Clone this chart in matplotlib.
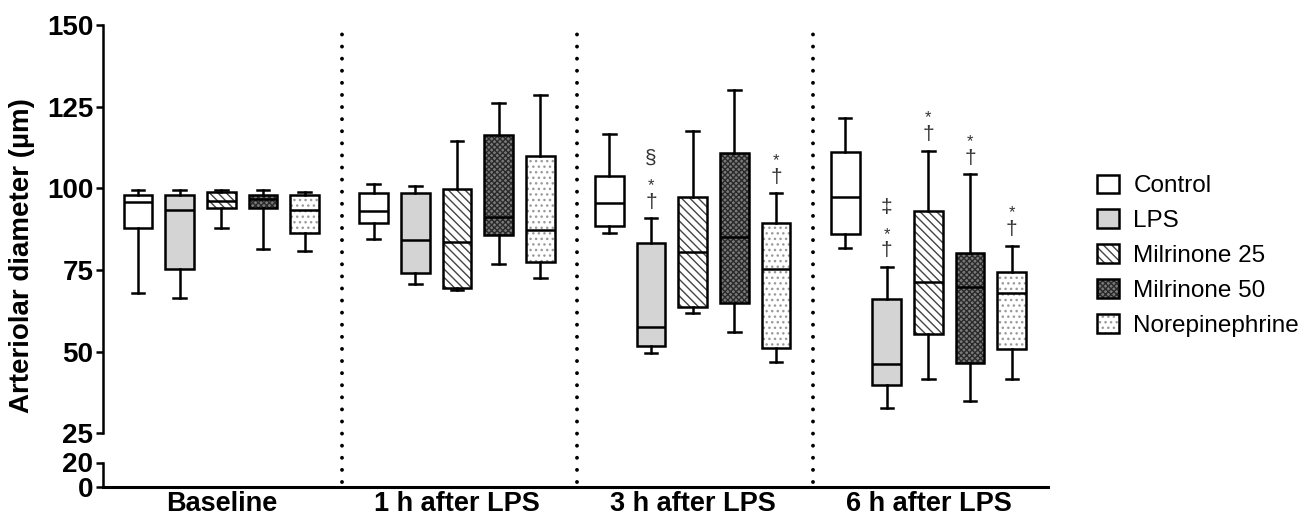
import matplotlib

matplotlib.use("Agg")
import matplotlib.pyplot as plt
from matplotlib.patches import Patch
from matplotlib.legend_handler import HandlerTuple

# Time points (x categories) and treatment groups (series)
TIMEPOINTS = ["Baseline", "1 h after LPS", "3 h after LPS", "6 h after LPS"]
SERIES = ["Control", "LPS", "Milrinone 25", "Milrinone 50", "Norepinephrine"]

# Box statistics per time point: (whisker low, Q1, median, Q3, whisker high), µm
CONTROL = [(68.1, 87.8, 95.9, 98.0, 99.4), (84.5, 89.3, 93.1, 98.5, 101.5),
           (86.4, 88.6, 95.5, 103.9, 116.8), (81.7, 86.1, 97.4, 111.2, 121.5)]
LPS = [(66.5, 75.3, 93.3, 98.0, 99.4), (70.6, 74.2, 84.3, 98.5, 100.8),
       (49.5, 51.7, 57.7, 83.2, 90.9), (32.9, 39.9, 46.2, 66.1, 76.0)]
MIL25 = [(88.0, 93.9, 96.2, 99.0, 99.4), (68.9, 69.6, 83.7, 99.8, 114.7),
         (62.0, 63.6, 80.6, 97.4, 117.6), (41.5, 55.4, 71.4, 93.1, 111.6)]
MIL50 = [(81.4, 94.0, 96.8, 98.0, 99.4), (77.0, 85.8, 91.4, 116.4, 126.3),
         (55.9, 64.8, 85.1, 111.0, 130.1), (35.0, 46.6, 69.7, 80.2, 104.4)]
NOREPI = [(81.0, 86.3, 93.3, 98.0, 98.9), (72.5, 77.4, 87.3, 110.0, 128.6),
          (46.9, 51.2, 75.4, 89.3, 98.5), (41.6, 50.7, 67.9, 74.4, 82.5)]

# Significance marks stacked above the upper whisker: (time index, series index, marks bottom->top)
MARKS = [(2, 1, ["†", "*", "§"]), (2, 4, ["†", "*"]),
         (3, 1, ["†", "*", "‡"]), (3, 2, ["†", "*"]),
         (3, 3, ["†", "*"]), (3, 4, ["†", "*"])]

Y_TOP_TICKS = [25, 50, 75, 100, 125, 150]
Y_BOT_TICKS = [0, 20]

# (facecolor, hatch, hatch colour)
STYLES = {
    "Control":        ("white",   "",           "black"),
    "LPS":            ("#d4d4d4", "",           "black"),
    "Milrinone 25":   ("white",   "\\\\\\\\",   "#444444"),
    "Milrinone 50":   ("#7a7a7a", "xxxxxx",     "#2a2a2a"),
    "Norepinephrine": ("white",   "...",        "#9a9a9a"),
}

plt.rcParams.update({
    "font.family": ["Liberation Sans", "DejaVu Sans"],
    "hatch.linewidth": 1.0,
})

W, H = 1308, 523
fig = plt.figure(figsize=(W / 100, H / 100), dpi=100)

LEFT, RIGHT = 103 / W, 1048 / W
top_y0, top_y1 = (H - 433.3) / H, (H - 25.3) / H
bot_y0, bot_y1 = (H - 487.3) / H, (H - 462.5) / H
ax = fig.add_axes([LEFT, top_y0, RIGHT - LEFT, top_y1 - top_y0])
axb = fig.add_axes([LEFT, bot_y0, RIGHT - LEFT, bot_y1 - bot_y0], sharex=ax)
axb.patch.set_visible(False)

GROUP_STEP = 5.66
LW = 1.8
data = [CONTROL, LPS, MIL25, MIL50, NOREPI]

for s, (name, rows) in enumerate(zip(SERIES, data)):
    fc, hatch, hc = STYLES[name]
    stats = [dict(whislo=r[0], q1=r[1], med=r[2], q3=r[3], whishi=r[4], fliers=[])
             for r in rows]
    pos = [g * GROUP_STEP + s for g in range(len(rows))]
    # fill + hatch layer
    ax.bxp(stats, positions=pos, widths=0.69, patch_artist=True,
           showcaps=False, showfliers=False,
           boxprops=dict(facecolor=fc, edgecolor=hc, hatch=hatch, linewidth=0),
           whiskerprops=dict(visible=False), medianprops=dict(visible=False))
    # outline layer
    ax.bxp(stats, positions=pos, widths=0.69, patch_artist=True,
           showfliers=False, capwidths=0.3,
           boxprops=dict(facecolor="none", edgecolor="black", linewidth=LW),
           whiskerprops=dict(color="black", linewidth=LW),
           capprops=dict(color="black", linewidth=LW),
           medianprops=dict(color="black", linewidth=LW))

# significance symbols
OFFSETS = [11.5, 26.5, 43]
for g, s, marks in MARKS:
    x = g * GROUP_STEP + s
    y = data[s][g][4]
    for k, m in enumerate(marks):
        fs = 12 if m == "*" else 15
        dy = OFFSETS[k] - (3 if m == "*" else 0)
        ax.annotate(m, (x, y), xytext=(0, dy), textcoords="offset points",
                    ha="center", va="center", fontsize=fs, color="#333333")

# dotted separators between time points (run down through the axis break)
for g in range(1, len(TIMEPOINTS)):
    ax.axvline(g * GROUP_STEP - 0.77, ymin=-0.119, ymax=1.0,
               clip_on=False, color="black", linewidth=2.8,
               linestyle=(0, (0.01, 3.1)), dash_capstyle="round")

ax.set_xlim(-0.84, 21.85)
ax.set_ylim(25, 150)
ax.set_yticks(Y_TOP_TICKS)
axb.set_ylim(0, 20)
axb.set_yticks(Y_BOT_TICKS)

for a in (ax, axb):
    for side in ("top", "right"):
        a.spines[side].set_visible(False)
    a.spines["left"].set_linewidth(LW)
    a.tick_params(axis="y", length=5, width=LW, pad=2, labelsize=20)
    for lab in a.get_yticklabels():
        lab.set_fontweight("bold")
ax.spines["bottom"].set_visible(False)
ax.tick_params(axis="x", bottom=False, labelbottom=False)
axb.spines["bottom"].set_linewidth(2.2)
axb.set_xticks([g * GROUP_STEP + 2 for g in range(len(TIMEPOINTS))])
axb.set_xticklabels(TIMEPOINTS, fontsize=19.5, fontweight="bold")
axb.tick_params(axis="x", length=0, pad=3)

fig.text(22 / W, 1 - 256 / H, "Arteriolar diameter (µm)", rotation=90,
         ha="center", va="center", fontsize=20, fontweight="bold")

handles = []
for name in SERIES:
    fc, hatch, hc = STYLES[name]
    handles.append((Patch(facecolor=fc, edgecolor=hc, hatch=hatch, linewidth=0),
                    Patch(facecolor="none", edgecolor="black", linewidth=LW)))
fig.legend(handles, SERIES, handler_map={tuple: HandlerTuple(ndivide=1, pad=0)},
           loc="center left", bbox_to_anchor=(1097 / W, 1 - 255.7 / H),
           frameon=False, fontsize=17.5, borderpad=0, borderaxespad=0,
           handlelength=0.9, handleheight=0.8, handletextpad=0.6,
           labelspacing=0.5)

fig.savefig("out.png", dpi=100)
